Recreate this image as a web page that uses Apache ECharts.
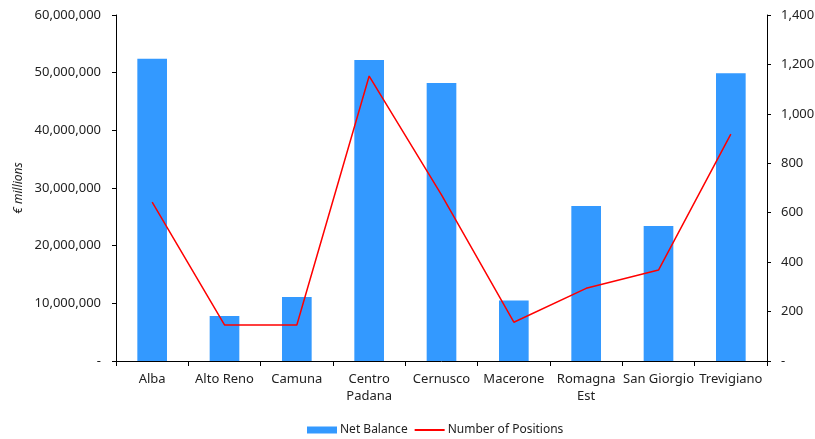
<!DOCTYPE html>
<html>
<head>
<meta charset="utf-8">
<script src="https://cdn.jsdelivr.net/npm/echarts@6/dist/echarts.min.js"></script>
<style>
html,body{margin:0;padding:0;background:#fff;}
#chart{width:815px;height:439px;}
</style>
</head>
<body>
<div id="chart"></div>
<script>
const categories = ["Alba", "Alto Reno", "Camuna", "Centro\nPadana", "Cernusco", "Macerone", "Romagna\nEst", "San Giorgio", "Trevigiano"];
const netBalance = [52400000, 7800000, 11100000, 52200000, 48200000, 10500000, 26900000, 23400000, 49900000];
const positions = [643, 146, 146, 1153, 672, 157, 294, 368, 918];
const leftTicks = {min: 0, max: 60000000, interval: 10000000};
const rightTicks = {min: 0, max: 1400, interval: 200};

const fmt = v => v === 0 ? '-' : v.toLocaleString('en-US');
const font = '"Noto Sans", sans-serif';
const txt = '#222';

const chart = echarts.init(document.getElementById('chart'));
chart.setOption({
  animation: false,
  textStyle: {fontFamily: font},
  grid: {left: 116, right: 48, top: 15, bottom: 78, outerBoundsMode: 'none'},
  legend: {
    bottom: 3, left: 307, padding: 0, itemGap: 6, itemWidth: 30, itemHeight: 7,
    textStyle: {color: txt, fontSize: 12, fontFamily: font, padding: [0, 0, 0, -2]},
    data: [{name: 'Net Balance', icon: 'rect'}, {name: 'Number of Positions', itemStyle: {opacity: 0, borderWidth: 0}}]
  },
  xAxis: {
    type: 'category', data: categories,
    axisLine: {lineStyle: {color: '#000'}},
    axisTick: {show: true, length: 5, alignWithLabel: false, lineStyle: {color: '#000'}},
    axisLabel: {color: txt, fontSize: 13, margin: 10, lineHeight: 17, interval: 0, fontFamily: font}
  },
  yAxis: [{
    type: 'value', min: leftTicks.min, max: leftTicks.max, interval: leftTicks.interval,
    name: '€ millions', nameLocation: 'middle', nameGap: 91, nameMoveOverlap: false,
    nameTextStyle: {fontStyle: 'italic', color: txt, fontSize: 12, fontFamily: font},
    axisLine: {show: true, lineStyle: {color: '#000'}},
    axisTick: {show: true, length: 4, lineStyle: {color: '#000'}},
    splitLine: {show: false},
    axisLabel: {formatter: fmt, color: txt, fontSize: 13, margin: 15, fontFamily: font}
  }, {
    type: 'value', position: 'right', min: rightTicks.min, max: rightTicks.max, interval: rightTicks.interval,
    axisLine: {show: true, lineStyle: {color: '#000'}},
    axisTick: {show: true, length: 4, lineStyle: {color: '#000'}},
    splitLine: {show: false},
    axisLabel: {formatter: fmt, color: txt, fontSize: 13, margin: 14, fontFamily: font}
  }],
  series: [{
    name: 'Net Balance', type: 'bar', data: netBalance, yAxisIndex: 0,
    barWidth: '41%', itemStyle: {color: '#3399FF'}
  }, {
    name: 'Number of Positions', type: 'line', data: positions, yAxisIndex: 1,
    symbol: 'none', lineStyle: {color: '#FF0000', width: 1.5}, itemStyle: {color: '#FF0000'}
  }]
});
</script>
</body>
</html>
